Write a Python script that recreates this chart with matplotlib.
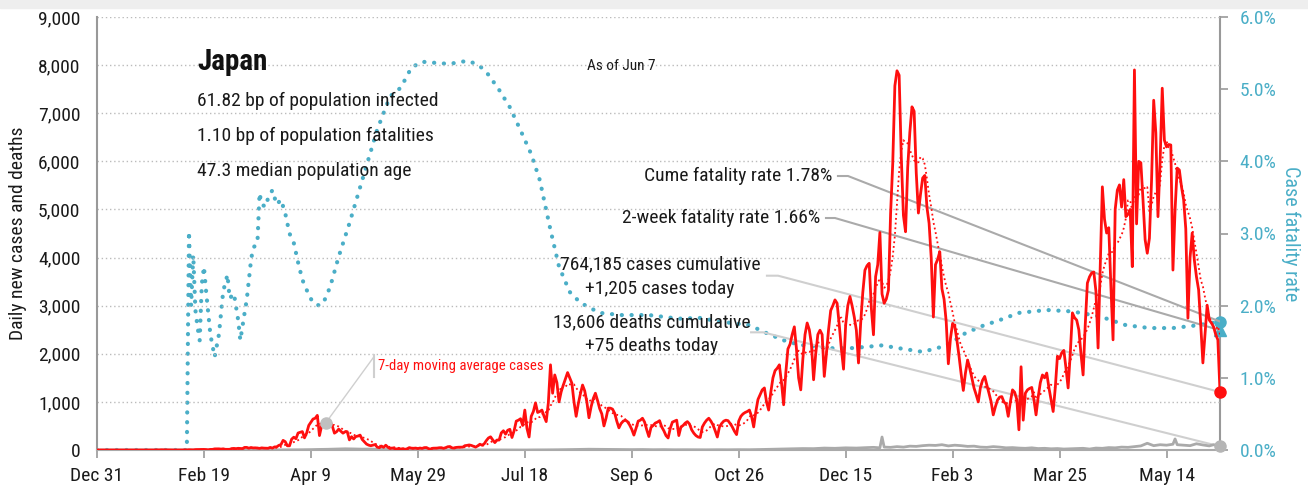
import numpy as np
import pandas as pd
import matplotlib
matplotlib.use("Agg")
import matplotlib.pyplot as plt
from matplotlib.patches import Rectangle

plt.rcParams["font.family"] = ["Roboto Condensed", "DejaVu Sans"]

# ── Data (day 0 = Dec 31, 2019; last day = Jun 7, 2021) ──────────
TICK_DAYS = [0, 50, 100, 150, 200, 250, 300, 350, 400, 450, 500]
TICK_LABELS = ["Dec 31", "Feb 19", "Apr 9", "May 29", "Jul 18", "Sep 6",
               "Oct 26", "Dec 15", "Feb 3", "Mar 25", "May 14"]

# daily new cases, rows of 10 days
daily_cases = [
    0, 0, 0, 0, 0, 0, 0, 0, 0, 0,
    0, 0, 0, 0, 0, 0, 1, 0, 0, 0,
    0, 0, 0, 0, 1, 1, 1, 0, 3, 1,
    4, 3, 2, 3, 0, 0, 0, 1, 0, 0,
    0, 3, 1, 5, 4, 2, 8, 8, 10, 11,
    12, 8, 4, 12, 13, 23, 24, 24, 19, 24,
    14, 13, 14, 30, 33, 28, 35, 32, 29, 54,
    54, 38, 52, 43, 45, 39, 34, 44, 39, 37,
    36, 54, 39, 64, 65, 96, 112, 200, 173, 87,
    87, 225, 266, 235, 353, 367, 383, 252, 351, 511,
    576, 644, 660, 720, 300, 500, 560, 587, 576, 584,
    500, 350, 380, 434, 390, 350, 380, 380, 210, 276,
    230, 280, 290, 310, 218, 170, 123, 101, 89, 100,
    113, 60, 48, 82, 55, 100, 57, 30, 42, 30,
    20, 31, 21, 27, 14, 26, 50, 38, 36, 40,
    30, 41, 33, 49, 51, 28, 17, 37, 38, 40,
    47, 48, 34, 49, 68, 72, 44, 40, 54, 58,
    58, 60, 90, 96, 105, 95, 77, 60, 86, 120,
    100, 127, 195, 250, 274, 210, 154, 207, 207, 355,
    400, 330, 410, 430, 260, 400, 600, 620, 650, 510,
    830, 450, 270, 700, 800, 980, 780, 800, 830, 700,
    590, 980, 1770, 1180, 1560, 1400, 1000, 1210, 1350, 1480,
    1610, 1500, 1390, 1000, 700, 960, 1170, 1350, 1230, 1000,
    670, 900, 1070, 1180, 1030, 860, 750, 500, 665, 870,
    870, 850, 765, 600, 460, 550, 600, 620, 590, 520,
    430, 310, 450, 600, 620, 660, 580, 420, 280, 470,
    510, 560, 580, 610, 480, 400, 300, 250, 450, 580,
    600, 620, 300, 480, 510, 560, 590, 540, 420, 350,
    300, 270, 260, 480, 560, 620, 660, 600, 520, 400,
    270, 480, 550, 600, 620, 610, 550, 480, 390, 320,
    600, 700, 750, 780, 800, 830, 700, 480, 800, 1050,
    1150, 1250, 1290, 1000, 830, 1200, 1500, 1650, 1700, 1770,
    1400, 940, 1600, 2100, 2200, 2400, 2560, 2100, 1500, 1250,
    1900, 2400, 2640, 2500, 2200, 1460, 2000, 2400, 2490, 2400,
    1530, 2000, 2500, 2900, 3000, 3120, 3050, 2600, 2100, 1680,
    2600, 3000, 3190, 3000, 2770, 2490, 1809, 2627, 3270, 3737,
    3832, 3881, 2948, 2395, 3603, 3852, 4520, 3243, 3050, 3139,
    3323, 4915, 5946, 7570, 7882, 7790, 6094, 4876, 4536, 5869,
    6604, 7133, 7041, 5759, 4925, 5320, 5654, 5707, 5044, 4714,
    3990, 2764, 3853, 3963, 4120, 3352, 3135, 2668, 1792, 2323,
    2631, 2576, 2284, 1950, 1575, 1238, 1600, 1870, 1700, 1500,
    1290, 1150, 1000, 1300, 1450, 1530, 1350, 1180, 1000, 730,
    900, 1040, 1100, 1110, 1000, 950, 700, 1000, 1250, 1200,
    1050, 420, 1730, 620, 1180, 1250, 1280, 1300, 1050, 730,
    1100, 1400, 1560, 1500, 1600, 1300, 1050, 800, 1300, 1950,
    1900, 2020, 2070, 1700, 1290, 2000, 2850, 2750, 2700, 2500,
    2000, 1560, 2600, 3470, 3600, 3680, 3700, 3300, 2120, 3800,
    5470, 4800, 4510, 4620, 3400, 2290, 5000, 5400, 5510, 5050,
    5620, 4850, 4900, 5000, 3810, 7900, 4700, 6000, 5970, 5200,
    4370, 4090, 4400, 5600, 7270, 6590, 4850, 6000, 7520, 6440,
    6300, 6350, 6340, 3740, 5000, 5860, 5820, 5470, 5200, 4600,
    2740, 4000, 4510, 3950, 3600, 3330, 2600, 1810, 2400, 3010,
    2700, 2640, 2560, 2400, 2290, 1205,
]

death_days = [0, 43, 55, 60, 70, 80, 88, 95, 100, 104, 108, 112, 116, 120, 124,
              128, 132, 136, 140, 145, 150, 160, 170, 180, 190, 200, 205, 210,
              215, 220, 225, 230, 235, 240, 245, 250, 255, 260, 265, 270, 275,
              280, 285, 290, 295, 300, 305, 310, 315, 320, 325, 330, 335, 340,
              345, 350, 355, 360, 363, 366, 367, 368, 371, 374, 377, 380, 383,
              386, 389, 392, 395, 398, 401, 404, 407, 410, 413, 416, 419, 422,
              425, 428, 431, 434, 437, 440, 443, 446, 449, 452, 455, 458, 461,
              464, 467, 470, 473, 476, 479, 482, 485, 488, 491, 494, 497, 500,
              503, 504, 505, 508, 511, 514, 517, 520, 522, 524, 525]
death_vals = [0, 1, 0, 1, 2, 2, 3, 5, 8, 12, 15, 20, 25, 22, 18,
              20, 12, 10, 8, 5, 3, 2, 1, 1, 1, 0, 2, 3,
              5, 8, 12, 16, 14, 12, 10, 8, 10, 6, 8, 5, 6,
              5, 4, 6, 5, 7, 6, 10, 15, 20, 25, 30, 28, 40,
              35, 45, 40, 50, 55, 45, 270, 60, 55, 70, 60, 80, 75,
              90, 100, 95, 110, 85, 100, 90, 75, 80, 60, 55, 70, 60,
              45, 50, 40, 35, 45, 30, 35, 25, 30, 20, 25, 30, 35,
              20, 40, 35, 50, 45, 60, 55, 70, 85, 140, 90, 110, 100,
              120, 230, 110, 100, 90, 130, 105, 85, 110, 95, 75]

# case fatality rate (%), read at sample days
cfr_days = [0, 42, 43, 44, 45, 46, 47, 48, 49, 50, 51, 53, 55, 57, 59, 61, 62,
            64, 66, 67, 69, 70, 72, 73, 75, 76, 77, 79, 80, 82, 84, 86, 88, 90,
            92, 94, 96, 99, 101, 104, 106, 109, 113, 118, 124, 131, 137, 142,
            147, 152, 156, 160, 165, 170, 174, 179, 183, 188, 193, 198, 203,
            207, 212, 216, 221, 226, 235, 245, 258, 272, 282, 291, 305, 313,
            321, 328, 336, 344, 352, 360, 367, 375, 386, 395, 400, 406, 414,
            422, 431, 444, 456, 469, 481, 492, 503, 515, 525]
cfr_vals = [0, 0, 3.03, 2.0, 2.7, 1.94, 1.7, 1.52, 2.3, 2.54, 2.2, 1.6, 1.29,
            1.6, 2.2, 2.43, 2.1, 2.17, 1.8, 1.52, 1.9, 2.08, 2.63, 2.8, 2.87,
            3.56, 3.4, 3.37, 3.5, 3.6, 3.4, 3.47, 3.28, 3.0, 2.87, 2.6, 2.36,
            2.15, 2.04, 2.0, 2.05, 2.26, 2.68, 3.14, 3.74, 4.44, 4.9, 5.02,
            5.3, 5.38, 5.37, 5.36, 5.35, 5.38, 5.39, 5.32, 5.2, 4.99, 4.75,
            4.43, 4.1, 3.74, 3.05, 2.54, 2.19, 2.04, 1.9, 1.87, 1.87, 1.82,
            1.83, 1.78, 1.73, 1.62, 1.52, 1.46, 1.43, 1.41, 1.41, 1.43, 1.45,
            1.41, 1.36, 1.43, 1.5, 1.62, 1.72, 1.8, 1.9, 1.94, 1.92, 1.85,
            1.73, 1.69, 1.69, 1.73, 1.78]

CUME_CFR = 1.78
TWO_WEEK_CFR = 1.66
TODAY_DEATHS = 75

RED = "#ff0f0f"
TEAL = "#4aaec7"
GRAY = "#aaaaaa"
LIGHT = "#cfcfcf"
TXT = "#1a1a1a"
FS = 14

days = np.arange(len(daily_cases))
avg7 = pd.Series(daily_cases, dtype=float).rolling(7, min_periods=1).mean()
last = days[-1]

fig = plt.figure(figsize=(13.08, 4.91), dpi=100)
fig.patches.append(Rectangle((0, 1 - 8 / 491), 1, 8 / 491, transform=fig.transFigure,
                             color="#eeeeee", zorder=0))
rect = [97 / 1308, 41 / 491, 1123 / 1308, 433 / 491]
ax2 = fig.add_axes(rect)
ax = fig.add_axes(rect, sharex=ax2)
ax.set_zorder(ax2.get_zorder() + 1)
ax.patch.set_visible(False)

# ── right axis: case fatality rate ────────────────────────────────
ax2.plot(cfr_days, cfr_vals, color=TEAL, lw=3.0, ls=(0, (0.05, 2.3)),
         dash_capstyle="round", solid_capstyle="round")
ax2.set_ylim(0, 6)
ax2.set_yticks(np.arange(0, 6.1, 1))
ax2.set_yticklabels(["%.1f%%" % v for v in np.arange(0, 6.1, 1)])
ax2.yaxis.tick_right()
ax2.tick_params(axis="y", colors="#999999", labelcolor=TEAL, labelsize=FS,
                length=6, width=1.2, pad=8)
for s in ["top", "left", "bottom"]:
    ax2.spines[s].set_visible(False)
ax2.spines["right"].set_color("#999999")
ax2.spines["right"].set_linewidth(1.5)
ax2.tick_params(axis="x", bottom=False, labelbottom=False)
ax2.text(1.0 + 71 / 1123, 0.5, "Case fatality rate", transform=ax2.transAxes,
         color=TEAL, fontsize=14.5, rotation=270, ha="center", va="center")
ax2.plot([last], [CUME_CFR], "o", color=TEAL, ms=8, zorder=6, clip_on=False)
ax2.plot([last], [TWO_WEEK_CFR], "^", color=TEAL, ms=8, zorder=6, clip_on=False)

# ── left axis: cases / deaths ─────────────────────────────────────
ax.set_xlim(0, last)
ax.set_ylim(0, 9000)
ax.set_yticks(range(0, 9001, 1000))
ax.set_yticklabels(["{:,}".format(v) for v in range(0, 9001, 1000)])
ax.set_xticks(TICK_DAYS)
ax.set_xticklabels(TICK_LABELS)
ax.tick_params(axis="y", length=0, labelsize=FS, labelcolor=TXT, pad=12)
ax.tick_params(axis="x", length=6, width=1.2, color="#999999", labelsize=FS,
               labelcolor=TXT, pad=6)
ax.grid(axis="y", color="#bbbbbb", ls=(0, (1, 2)), lw=1.0)
ax.set_axisbelow(True)
for s in ["top", "right"]:
    ax.spines[s].set_visible(False)
ax.spines["left"].set_color("#999999")
ax.spines["left"].set_linewidth(1.5)
ax.spines["bottom"].set_color("#aaaaaa")
ax.spines["bottom"].set_linewidth(1.5)
ax.text(-79 / 1123, 0.5, "Daily new cases and deaths", transform=ax.transAxes,
        fontsize=FS, color=TXT, rotation=90, ha="center", va="center")

# leader lines from the callouts to the end-of-series markers
cfr_scale = 9000 / 6
leaders = [
    ((346.4, 5695), (351.1, 5695), CUME_CFR * cfr_scale, GRAY),
    ((340.8, 4822), (345.0, 4822), TWO_WEEK_CFR * cfr_scale, GRAY),
    ((313.2, 3623), (318.4, 3623), daily_cases[-1], LIGHT),
    ((305.8, 2446), (311.4, 2446), death_vals[-1], LIGHT),
]
for p0, p1, yend, col in leaders:
    ax.plot([p0[0], p1[0], last], [p0[1], p1[1], yend], color=col, lw=1.5,
            zorder=2)

ax.plot(death_days, death_vals, color=GRAY, lw=2.0, zorder=3)
ax.plot(days, avg7, color=RED, lw=1.3, ls=(0, (1, 1.6)), zorder=4)
ax.plot(days, daily_cases, color=RED, lw=2.0, zorder=5)
ax.plot([last], [daily_cases[-1]], "o", color=RED, ms=8, zorder=7, clip_on=False)
ax.plot([death_days[-1]], [death_vals[-1]], "o", color="#b5b5b5", ms=8, zorder=7,
        clip_on=False)

# 7-day average callout
early = avg7[:150]
pk = int(early.idxmax())
ax.plot([pk], [early[pk]], "o", color="#c0c0c0", ms=8, zorder=7)
ax.plot([pk, 129.5], [early[pk], 1940], color=LIGHT, lw=1.0, zorder=2)
ax.plot([129.5, 129.5], [1524, 1975], color=LIGHT, lw=1.5, zorder=2)
ax.text(0.2502, 0.194, "7-day moving average cases", transform=ax.transAxes,
        color=RED, fontsize=10.6, va="center", ha="left")

# ── text block ────────────────────────────────────────────────────
ax.text(0.089, 0.896, "Japan", transform=ax.transAxes, fontsize=21,
        fontweight="bold", color="#111111", va="center", ha="left")
for y, s in [(0.806, "61.82 bp of population infected"),
             (0.725, "1.10 bp of population fatalities"),
             (0.644, "47.3 median population age")]:
    ax.text(0.089, y, s, transform=ax.transAxes, fontsize=FS, color=TXT,
            va="center", ha="left")
ax.text(0.4363, 0.887, "As of Jun 7", transform=ax.transAxes, fontsize=11,
        color=TXT, va="center", ha="left")

ax.text(0.6545, 0.633, "Cume fatality rate %.2f%%" % CUME_CFR,
        transform=ax.transAxes, fontsize=FS, color=TXT, va="center", ha="right")
ax.text(0.6438, 0.536, "2-week fatality rate %.2f%%" % TWO_WEEK_CFR,
        transform=ax.transAxes, fontsize=FS, color=TXT, va="center", ha="right")
ax.text(0.5013, 0.4296, "764,185 cases cumulative", transform=ax.transAxes,
        fontsize=FS, color=TXT, va="center", ha="center")
ax.text(0.5013, 0.3718, "+{:,} cases today".format(daily_cases[-1]),
        transform=ax.transAxes, fontsize=FS, color=TXT, va="center", ha="center")
ax.text(0.4942, 0.2956, "13,606 deaths cumulative", transform=ax.transAxes,
        fontsize=FS, color=TXT, va="center", ha="center")
ax.text(0.4942, 0.2402, "+%d deaths today" % TODAY_DEATHS, transform=ax.transAxes,
        fontsize=FS, color=TXT, va="center", ha="center")

fig.savefig("out.png", dpi=100)
